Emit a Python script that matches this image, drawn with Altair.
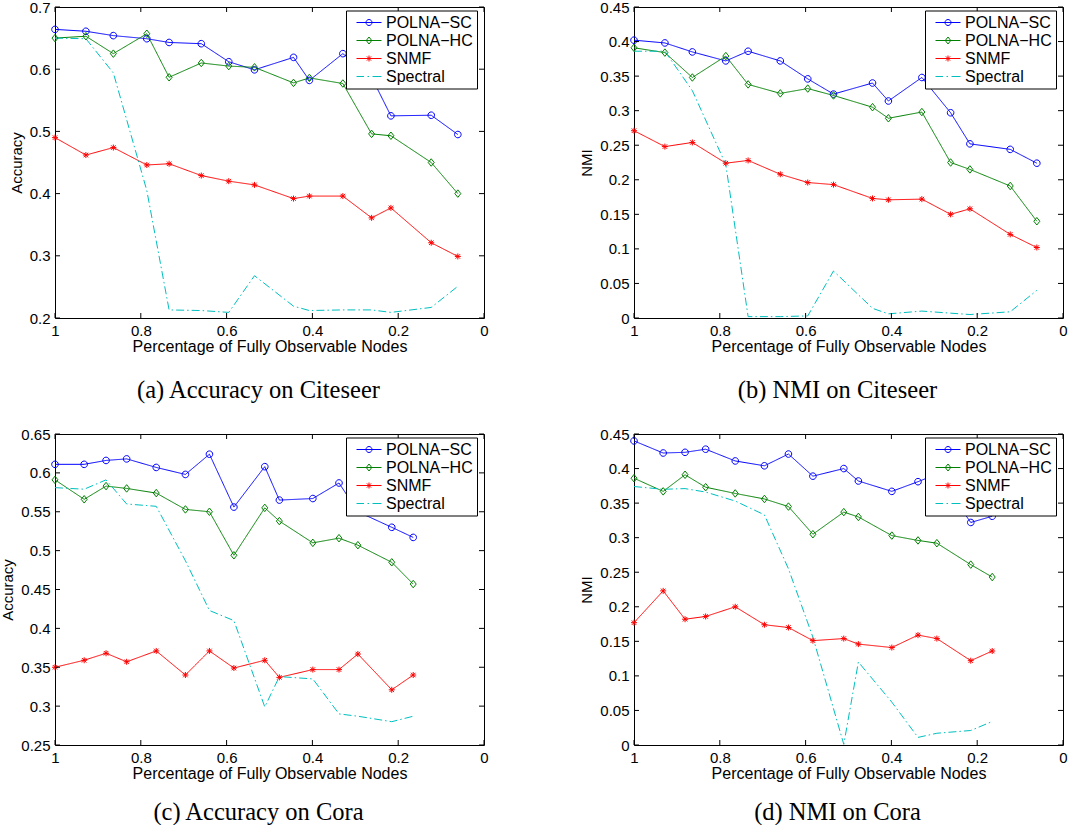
import altair as alt
import pandas as pd

SERIES = ["POLNA\u2212SC", "POLNA\u2212HC", "SNMF", "Spectral"]
COLORS = ["#0000ff", "#008000", "#ff0000", "#00bfbf"]
DASHES = [[1, 0], [1, 0], [1, 0], [8, 3, 1.5, 3]]

# in-plot marker shapes (unit = sqrt(size)/2 px)
MARKERS = [
    "M1.1,0A1.1,1.1 0 1,1 -1.1,0A1.1,1.1 0 1,1 1.1,0Z",
    "M0,-1.25L1,0L0,1.25L-1,0Z",
    "M0,-1V1M-1,0H1M-0.75,-0.75L0.75,0.75M-0.75,0.75L0.75,-0.75",
]
# legend glyphs: line sample with the marker in the middle
LEGEND_GLYPHS = [
    "M-0.3,0H4.7M2.8,0A0.6,0.6 0 1,1 1.6,0A0.6,0.6 0 1,1 2.8,0",
    "M-0.3,0H4.7M2.2,-0.7L2.75,0L2.2,0.7L1.65,0Z",
    "M-0.3,0H4.7M2.2,-0.6V0.6M1.6,0H2.8M1.78,-0.42L2.62,0.42M1.78,0.42L2.62,-0.42",
    "M-0.3,0H1.2M1.9,0H2.2M2.9,0H4.7",
]

X_TICKS = [1.0, 0.8, 0.6, 0.4, 0.2, 0.0]
Y_TICKS_A = [0.2, 0.3, 0.4, 0.5, 0.6, 0.7]
Y_TICKS_B = [0.0, 0.05, 0.1, 0.15, 0.2, 0.25, 0.3, 0.35, 0.4, 0.45]
Y_TICKS_C = [0.25, 0.3, 0.35, 0.4, 0.45, 0.5, 0.55, 0.6, 0.65]
Y_TICKS_D = [0.0, 0.05, 0.1, 0.15, 0.2, 0.25, 0.3, 0.35, 0.4, 0.45]

X_CITESEER = [1.0, 0.928, 0.864, 0.786, 0.734, 0.659, 0.595, 0.535, 0.444, 0.407, 0.329, 0.262, 0.217, 0.123, 0.061]
X_CORA = [1.0, 0.932, 0.881, 0.833, 0.764, 0.696, 0.640, 0.583, 0.511, 0.477, 0.399, 0.338, 0.294, 0.215, 0.165]

CITESEER_ACC_SC = [0.664, 0.661, 0.654, 0.649, 0.643, 0.641, 0.612, 0.599, 0.619, 0.582, 0.625, 0.587, 0.525, 0.526, 0.495]
CITESEER_ACC_HC = [0.650, 0.653, 0.625, 0.657, 0.587, 0.610, 0.605, 0.603, 0.578, 0.586, 0.577, 0.496, 0.493, 0.450, 0.400]
CITESEER_ACC_SNMF = [0.490, 0.462, 0.474, 0.446, 0.448, 0.429, 0.420, 0.414, 0.392, 0.396, 0.396, 0.361, 0.377, 0.321, 0.299]
CITESEER_ACC_SPEC = [0.650, 0.649, 0.594, 0.405, 0.213, 0.212, 0.209, 0.268, 0.219, 0.212, 0.213, 0.213, 0.209, 0.217, 0.251]

CITESEER_NMI_SC = [0.402, 0.398, 0.385, 0.372, 0.386, 0.372, 0.346, 0.324, 0.340, 0.314, 0.348, 0.297, 0.252, 0.244, 0.224]
CITESEER_NMI_HC = [0.391, 0.384, 0.348, 0.379, 0.338, 0.325, 0.332, 0.322, 0.305, 0.289, 0.298, 0.225, 0.215, 0.191, 0.140]
CITESEER_NMI_SNMF = [0.271, 0.248, 0.254, 0.224, 0.228, 0.208, 0.196, 0.193, 0.173, 0.171, 0.172, 0.150, 0.158, 0.121, 0.102]
CITESEER_NMI_SPEC = [0.386, 0.386, 0.329, 0.222, 0.002, 0.002, 0.003, 0.068, 0.014, 0.006, 0.010, 0.007, 0.005, 0.009, 0.040]

CORA_ACC_SC = [0.611, 0.611, 0.616, 0.618, 0.607, 0.598, 0.624, 0.556, 0.608, 0.565, 0.567, 0.587, 0.550, 0.530, 0.517]
CORA_ACC_HC = [0.591, 0.566, 0.583, 0.580, 0.574, 0.553, 0.550, 0.494, 0.555, 0.538, 0.510, 0.516, 0.507, 0.485, 0.457]
CORA_ACC_SNMF = [0.350, 0.359, 0.368, 0.357, 0.371, 0.340, 0.371, 0.349, 0.359, 0.337, 0.347, 0.347, 0.367, 0.321, 0.340]
CORA_ACC_SPEC = [0.581, 0.579, 0.591, 0.560, 0.557, 0.487, 0.423, 0.410, 0.299, 0.338, 0.335, 0.290, 0.287, 0.280, 0.287]

CORA_NMI_SC = [0.440, 0.4225, 0.4235, 0.428, 0.411, 0.404, 0.421, 0.389, 0.400, 0.382, 0.367, 0.381, 0.392, 0.322, 0.331]
CORA_NMI_HC = [0.386, 0.367, 0.391, 0.373, 0.364, 0.356, 0.345, 0.305, 0.337, 0.330, 0.303, 0.296, 0.292, 0.261, 0.243]
CORA_NMI_SNMF = [0.177, 0.223, 0.182, 0.186, 0.200, 0.174, 0.170, 0.151, 0.154, 0.146, 0.141, 0.159, 0.154, 0.122, 0.136]
CORA_NMI_SPEC = [0.374, 0.370, 0.371, 0.366, 0.353, 0.333, 0.255, 0.156, 0.001, 0.120, 0.062, 0.011, 0.017, 0.021, 0.034]

W, H = 429, 311
TICK = 5
SANS = "Liberation Sans"
SERIF = "Liberation Serif"


def panel(xs, series_vals, ylabel, ydom, yticks, caption, cap_offset):
    rows = []
    for name, vals in zip(SERIES, series_vals):
        for x, y in zip(xs, vals):
            rows.append({"x": x, "y": y, "series": name})
    df = pd.DataFrame(rows)

    xenc = alt.X(
        "x:Q",
        scale=alt.Scale(domain=[0, 1], reverse=True, nice=False, zero=False),
        axis=alt.Axis(title="Percentage of Fully Observable Nodes", values=X_TICKS,
                      format="~g", labelFlush=False, labelOverlap=False),
    )
    yenc = alt.Y(
        "y:Q",
        scale=alt.Scale(domain=ydom, nice=False, zero=False),
        axis=alt.Axis(title=ylabel, values=yticks, format="~g",
                      labelFlush=False, labelOverlap=False),
    )

    layers = []
    for name, col, dash in zip(SERIES, COLORS, DASHES):
        layers.append(
            alt.Chart(df).transform_filter(alt.datum.series == name)
            .mark_line(strokeWidth=1, color=col, strokeDash=dash)
            .encode(x=xenc, y=yenc)
        )
    for name, col, shp in zip(SERIES[:3], COLORS[:3], MARKERS):
        layers.append(
            alt.Chart(df).transform_filter(alt.datum.series == name)
            .mark_point(shape=shp, filled=False, strokeWidth=1, size=36, opacity=1, color=col)
            .encode(x=xenc, y=yenc)
        )

    xt = pd.DataFrame({"x": X_TICKS})
    yt = pd.DataFrame({"y": yticks})
    layers += [
        alt.Chart(xt).mark_rule(color="black", strokeWidth=1).encode(
            x=xenc, y=alt.value(H), y2=alt.value(H - TICK)),
        alt.Chart(xt).mark_rule(color="black", strokeWidth=1).encode(
            x=xenc, y=alt.value(0), y2=alt.value(TICK)),
        alt.Chart(yt).mark_rule(color="black", strokeWidth=1).encode(
            y=yenc, x=alt.value(0), x2=alt.value(TICK)),
        alt.Chart(yt).mark_rule(color="black", strokeWidth=1).encode(
            y=yenc, x=alt.value(W), x2=alt.value(W - TICK)),
    ]

    leg_props = dict(
        title=None, orient="none", legendX=291, legendY=3.5,
        fillColor="white", strokeColor="black", padding=4,
        labelFont=SANS, labelFontSize=16, labelColor="black",
        symbolSize=100, symbolStrokeWidth=1, labelOffset=20, rowPadding=2,
    )
    layers.append(
        alt.Chart(df).transform_filter("false").mark_point(
            filled=False, opacity=1, strokeWidth=1
        ).encode(
            x=xenc, y=yenc,
            stroke=alt.Stroke("series:N", scale=alt.Scale(domain=SERIES, range=COLORS),
                              legend=alt.Legend(**leg_props)),
            shape=alt.Shape("series:N", scale=alt.Scale(domain=SERIES, range=LEGEND_GLYPHS),
                            legend=alt.Legend(**leg_props)),
        )
    )

    return alt.layer(*layers).properties(
        width=W, height=H,
        title=alt.TitleParams(caption, orient="bottom", font=SERIF, fontSize=24.5,
                              fontWeight="normal", color="black", offset=cap_offset,
                              anchor="middle", frame="group", dx=-11),
    )


pa = panel(X_CITESEER, [CITESEER_ACC_SC, CITESEER_ACC_HC, CITESEER_ACC_SNMF, CITESEER_ACC_SPEC],
           "Accuracy", [0.2, 0.7], Y_TICKS_A, "(a) Accuracy on Citeseer", 25)
pb = panel(X_CITESEER, [CITESEER_NMI_SC, CITESEER_NMI_HC, CITESEER_NMI_SNMF, CITESEER_NMI_SPEC],
           "NMI", [0.0, 0.45], Y_TICKS_B, "(b) NMI on Citeseer", 25)
pc = panel(X_CORA, [CORA_ACC_SC, CORA_ACC_HC, CORA_ACC_SNMF, CORA_ACC_SPEC],
           "Accuracy", [0.25, 0.65], Y_TICKS_C, "(c) Accuracy on Cora", 20)
pd_ = panel(X_CORA, [CORA_NMI_SC, CORA_NMI_HC, CORA_NMI_SNMF, CORA_NMI_SPEC],
            "NMI", [0.0, 0.45], Y_TICKS_D, "(d) NMI on Cora", 20)

chart = alt.concat(
    pa, pb, pc, pd_, columns=2, spacing={"row": 116, "column": 150}, bounds="flush"
).resolve_scale(
    x="independent", y="independent", stroke="independent", shape="independent",
).resolve_legend(
    stroke="independent", shape="independent",
).properties(
    padding={"left": 0, "top": -1, "right": 0, "bottom": 0},
    background="white",
).configure_view(
    stroke="black", strokeWidth=1,
).configure_axis(
    domain=False, ticks=False, grid=False,
    labelFont=SANS, labelFontSize=15, labelColor="black",
    titleFont=SANS, titleFontWeight="normal", titleColor="black",
).configure_axisX(
    labelPadding=5, titleFontSize=16, titlePadding=0,
).configure_axisY(
    labelPadding=5, titleFontSize=15, titlePadding=5,
)

chart.save("out.html", embed_options={"renderer": "svg", "actions": False})
